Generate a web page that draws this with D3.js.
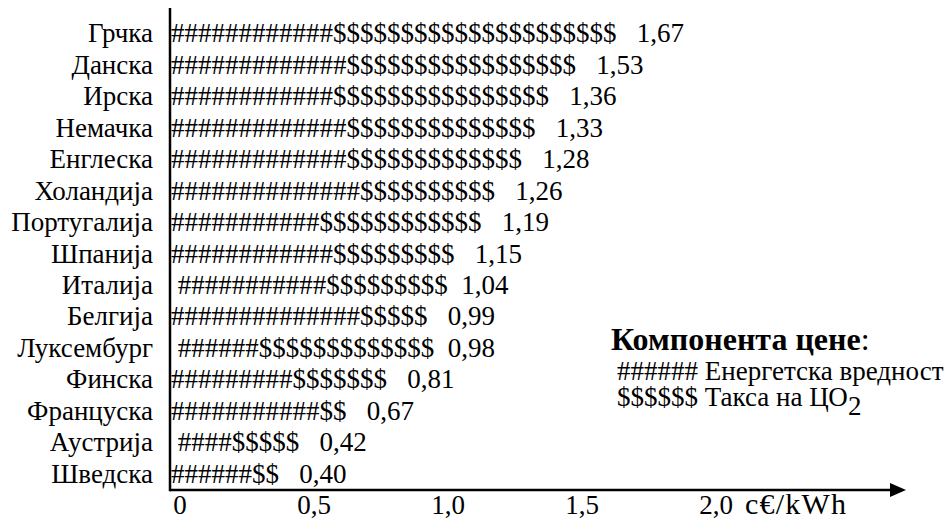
<!DOCTYPE html>
<html>
<head>
<meta charset="utf-8">
<script src="https://cdn.jsdelivr.net/npm/d3@7"></script>
<style>
  html, body { margin: 0; padding: 0; background: #fff; }
  svg text { font-family: "Liberation Serif", Tinos, "Times New Roman", serif; white-space: pre; }
</style>
</head>
<body>
<svg id="chart" width="945" height="520"></svg>
<script>
// ---------- data ----------
const countries = ["Грчка", "Данска", "Ирска", "Немачка", "Енглеска", "Холандија", "Португалија",
  "Шпанија", "Италија", "Белгија", "Луксембург", "Финска", "Француска", "Аустрија", "Шведска"];
const totals = [1.67, 1.53, 1.36, 1.33, 1.28, 1.26, 1.19, 1.15, 1.04, 0.99, 0.98, 0.81, 0.67, 0.42, 0.40];
// number of "#" (energy value) and "$" (CO2 tax) characters in each text bar
const hashCounts   = [12, 13, 12, 13, 13, 14, 11, 12, 11, 14,  6, 9, 11, 4, 6];
const dollarCounts = [21, 17, 16, 14, 13, 10, 12,  9,  9,  5, 13, 7,  2, 5, 2];
// text details of each row: leading space before the bar, spaces before the value
const leadSpace    = [false, false, false, false, false, false, false, false, true, false, true, false, false, true, false];
const gapSpaces    = [3, 3, 3, 3, 3, 3, 3, 3, 2, 3, 2, 3, 3, 3, 3];
const tickValues = [0, 0.5, 1.0, 1.5, 2.0];
const tickLabels = ["0", "0,5", "1,0", "1,5", "2,0"];
const unitLabel = "c€/kWh";
const legendTitle = "Компонента цене";
const legendItems = [
  { sym: "######", text: "Енергетска вредност", sub: "" },
  { sym: "$$$$$$", text: "Такса на ЦО", sub: "2" }
];

// ---------- layout ----------
const svg = d3.select("#chart");
const fs = 27;
const axisX = 170, axisY = 490;

const x = d3.scaleLinear().domain([0, 2]).range([180, 716]);
const y = d3.scaleBand().domain(countries).range([17.5, 489.5]).padding(0);

const fmt = v => d3.format(".2f")(v).replace(".", ",");

// country labels
svg.append("g").selectAll("text").data(countries).join("text")
  .attr("x", 153)
  .attr("y", d => y(d) + y.bandwidth() / 2 + 9)
  .attr("text-anchor", "end")
  .attr("font-size", fs)
  .attr("fill", "#000")
  .text(d => d);

// text bars
svg.append("g").selectAll("text").data(countries).join("text")
  .attr("x", x(0) - 9)
  .attr("y", d => y(d) + y.bandwidth() / 2 + 9)
  .attr("font-size", fs)
  .attr("fill", "#000")
  .text((d, i) => (leadSpace[i] ? " " : "") + "#".repeat(hashCounts[i]) + "$".repeat(dollarCounts[i])
    + " ".repeat(gapSpaces[i]) + fmt(totals[i]));

// axes
svg.append("line").attr("x1", axisX).attr("x2", axisX).attr("y1", 8).attr("y2", axisY + 1.25)
  .attr("stroke", "#000").attr("stroke-width", 2.5);
svg.append("line").attr("x1", axisX).attr("x2", 892).attr("y1", axisY).attr("y2", axisY)
  .attr("stroke", "#000").attr("stroke-width", 2.5);
svg.append("path").attr("d", `M890,${axisY - 7}L906,${axisY}L890,${axisY + 7}Z`).attr("fill", "#000");

// tick labels
svg.append("g").selectAll("text").data(tickValues).join("text")
  .attr("x", d => x(d))
  .attr("y", 514)
  .attr("text-anchor", "middle")
  .attr("font-size", fs)
  .attr("fill", "#000")
  .text((d, i) => tickLabels[i]);
svg.append("text").attr("x", 745).attr("y", 514).attr("font-size", 30).attr("letter-spacing", 1.2)
  .attr("fill", "#000").text(unitLabel);

// legend
const lt = svg.append("text").attr("x", 611).attr("y", 350).attr("font-size", 32).attr("fill", "#000");
lt.append("tspan").attr("font-weight", "bold").text(legendTitle);
lt.append("tspan").text(":");
legendItems.forEach((it, i) => {
  const t = svg.append("text").attr("x", 617).attr("y", 380 + i * 26).attr("font-size", fs).attr("fill", "#000");
  t.append("tspan").text(it.sym + " " + it.text);
  if (it.sub) t.append("tspan").attr("dy", 9).text(it.sub);
});
</script>
</body>
</html>
